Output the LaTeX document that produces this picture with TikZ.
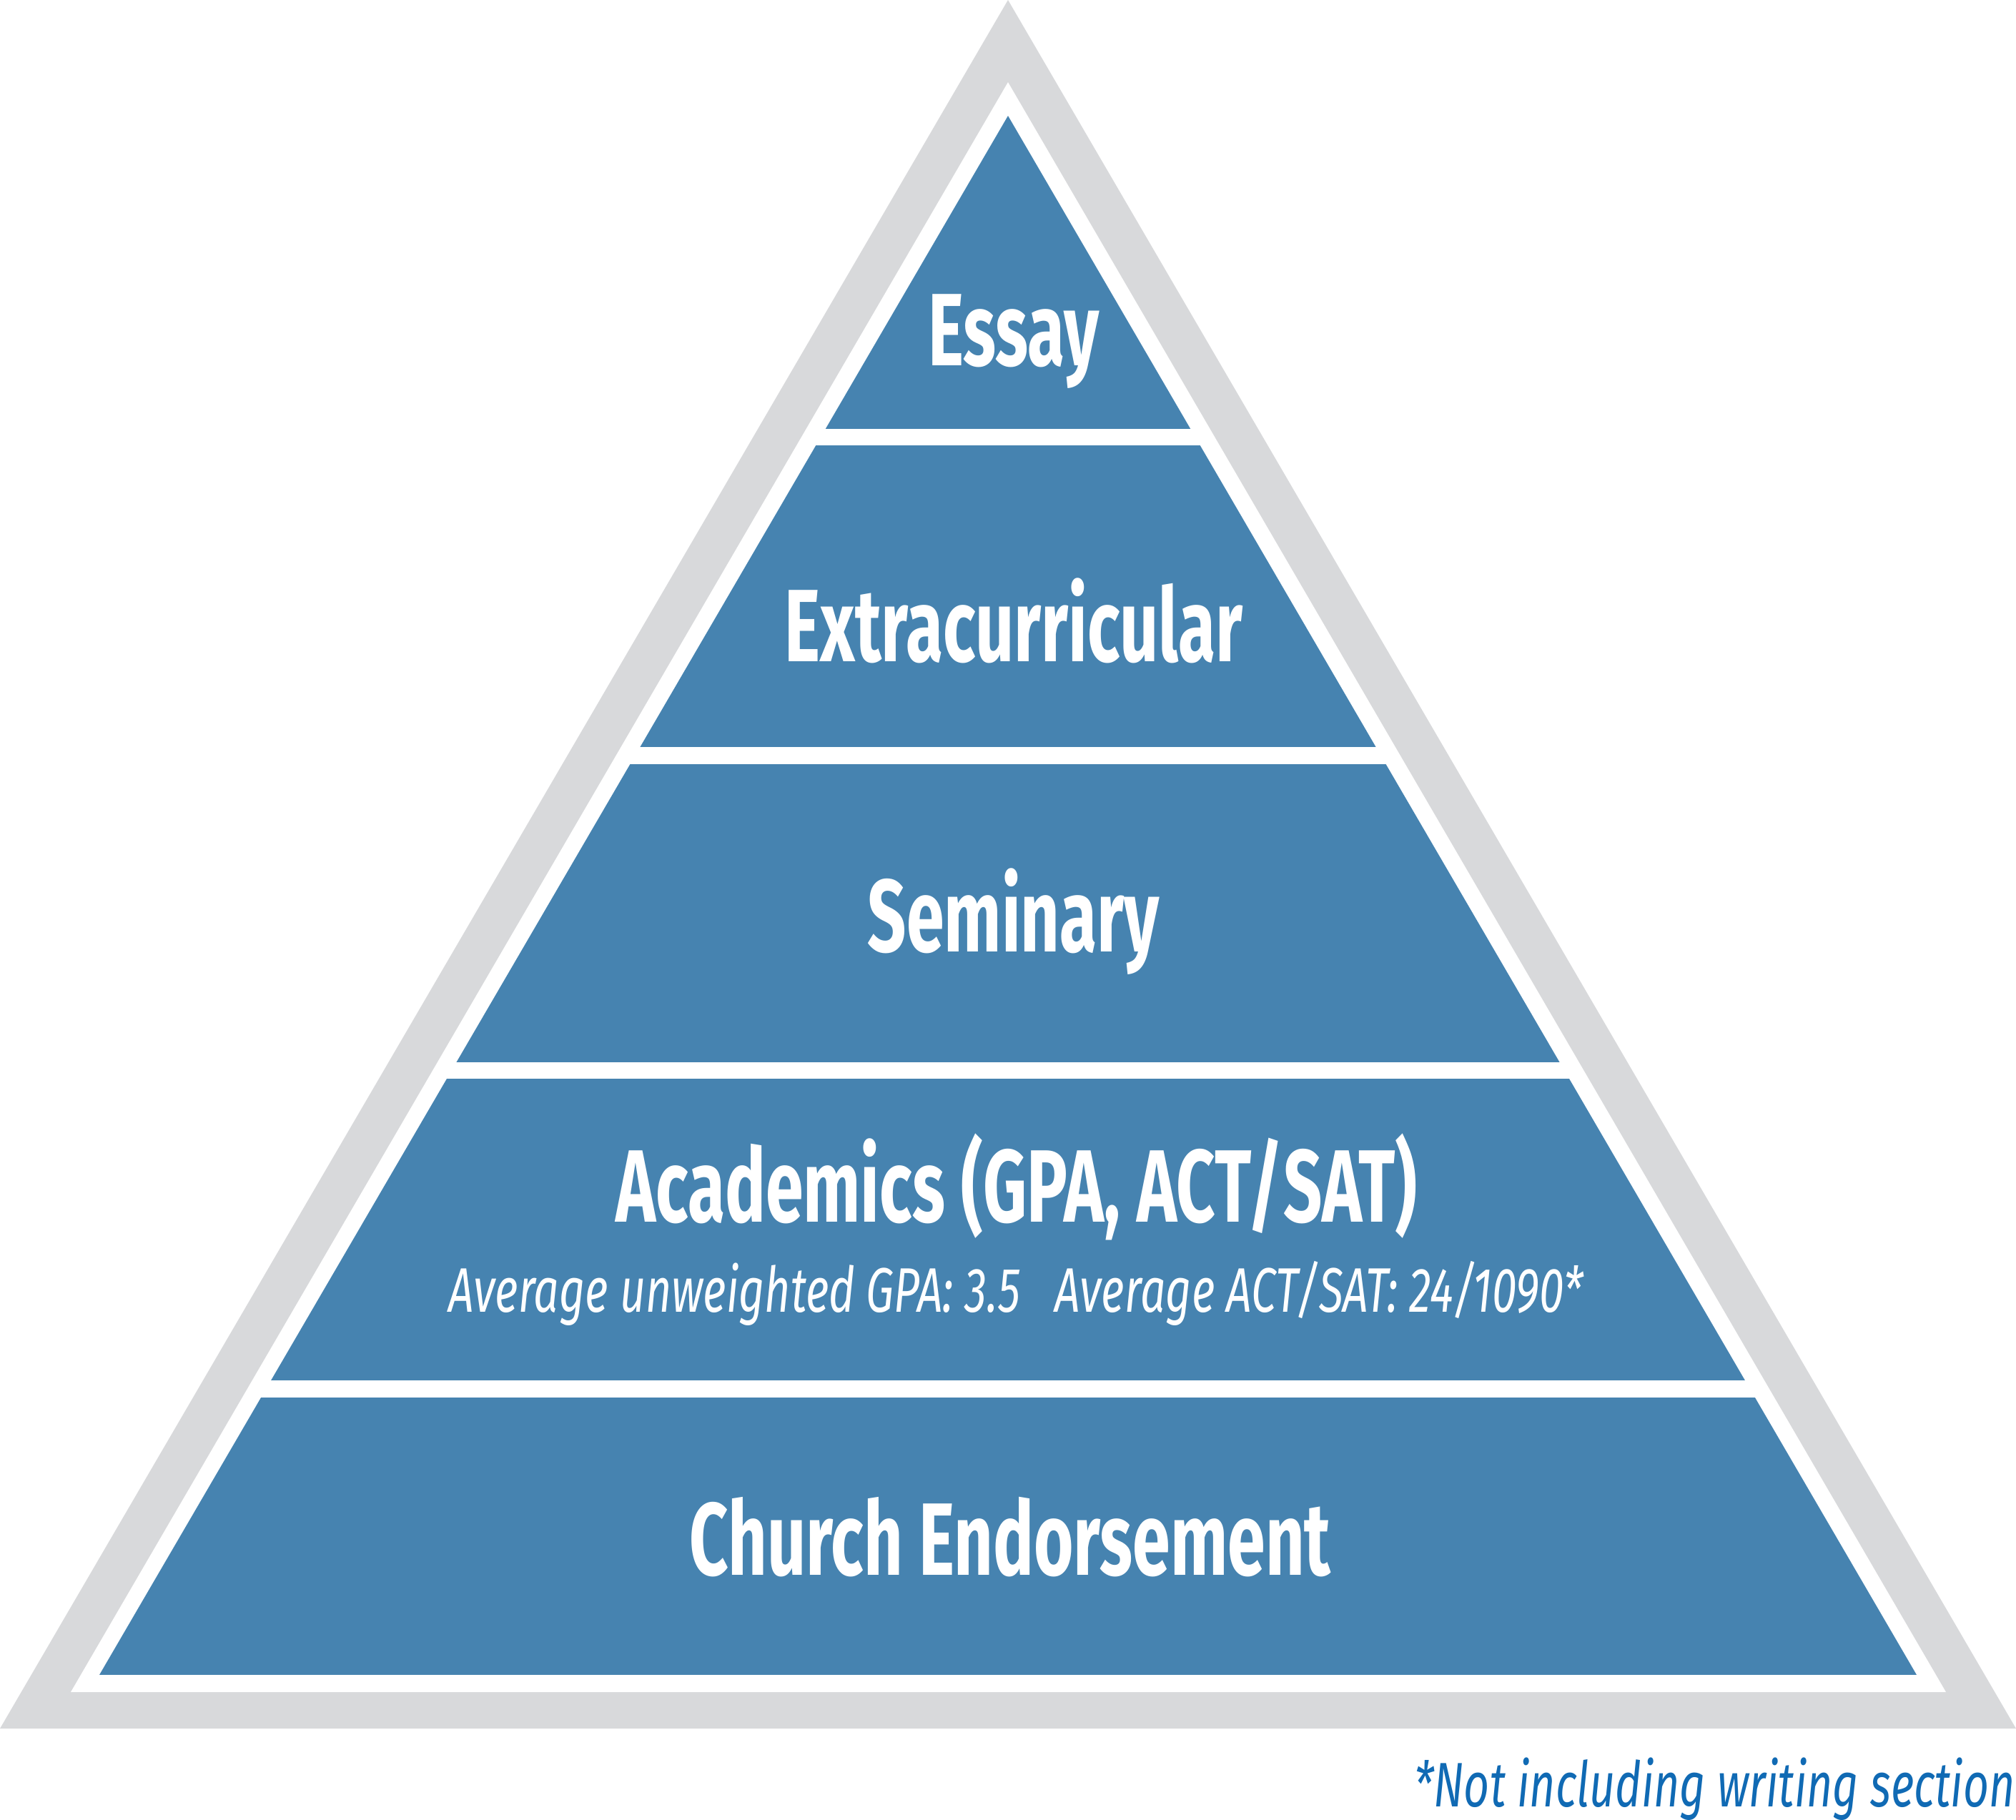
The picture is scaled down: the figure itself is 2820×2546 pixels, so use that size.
\documentclass[tikz,border=0pt]{standalone}
\usepackage{fontspec}
\newfontfamily\labelfont[FakeStretch=0.66]{Fira Sans}
\newfontfamily\notefont[FakeStretch=0.71]{Fira Sans}
\definecolor{bandblue}{RGB}{70,131,176}
\definecolor{framegrey}{RGB}{216,217,219}
\definecolor{noteblue}{RGB}{16,106,180}
\tikzset{every picture/.style={line width=0.75pt},
  bandlabel/.style={text=white, inner sep=0pt, anchor=base, font=\labelfont\bfseries\fontsize{36}{40}\selectfont},
  sublabel/.style={text=white, inner sep=0pt, anchor=base, font=\notefont\itshape\fontsize{22}{26}\selectfont},
  notelabel/.style={text=noteblue, inner sep=0pt, anchor=base east, font=\notefont\itshape\fontsize{22}{26}\selectfont}}
\begin{document}
\begin{tikzpicture}[x=0.25pt,y=0.25pt,yscale=-1]
\useasboundingbox (0,0) rectangle (2820,2546);

%Shape: Triangle [grey frame]
\fill [framegrey] (1410,0) -- (2820,2418) -- (0,2418) -- cycle ;
%Shape: Triangle [white inset]
\fill [white] (1410,115) -- (2722,2367) -- (99,2367) -- cycle ;
%Shape: Bands
\begin{scope}
\clip (1410,162) -- (2681,2343) -- (139,2343) -- cycle ;
\foreach \ytop/\ybot in {162/600, 623/1045, 1069/1486, 1509/1931, 1955/2343}
  \fill [bandblue] (0,\ytop) rectangle (2820,\ybot) ;
\end{scope}

% Text Node
\draw (1418,512) node (essay) [bandlabel] {Essay};
% Text Node
\draw (1418,926) node (extra) [bandlabel] {Extracurricular};
% Text Node
\draw (1418,1331) node (seminary) [bandlabel] {Seminary};
% Text Node
\draw (1422,1709) node (academics) [bandlabel] {Academics (GPA, ACT/SAT)};
% Text Node
\draw (1421,1835) node (averages) [sublabel] {Average unweighted GPA: 3.5\hspace{12pt}Average ACT/SAT: 24/1090*};
% Text Node
\draw (1413,2203) node (church) [bandlabel] {Church Endorsement};
% Text Node
\draw (2820,2527) node (note) [notelabel] {*Not including writing section};

\end{tikzpicture}
\end{document}
